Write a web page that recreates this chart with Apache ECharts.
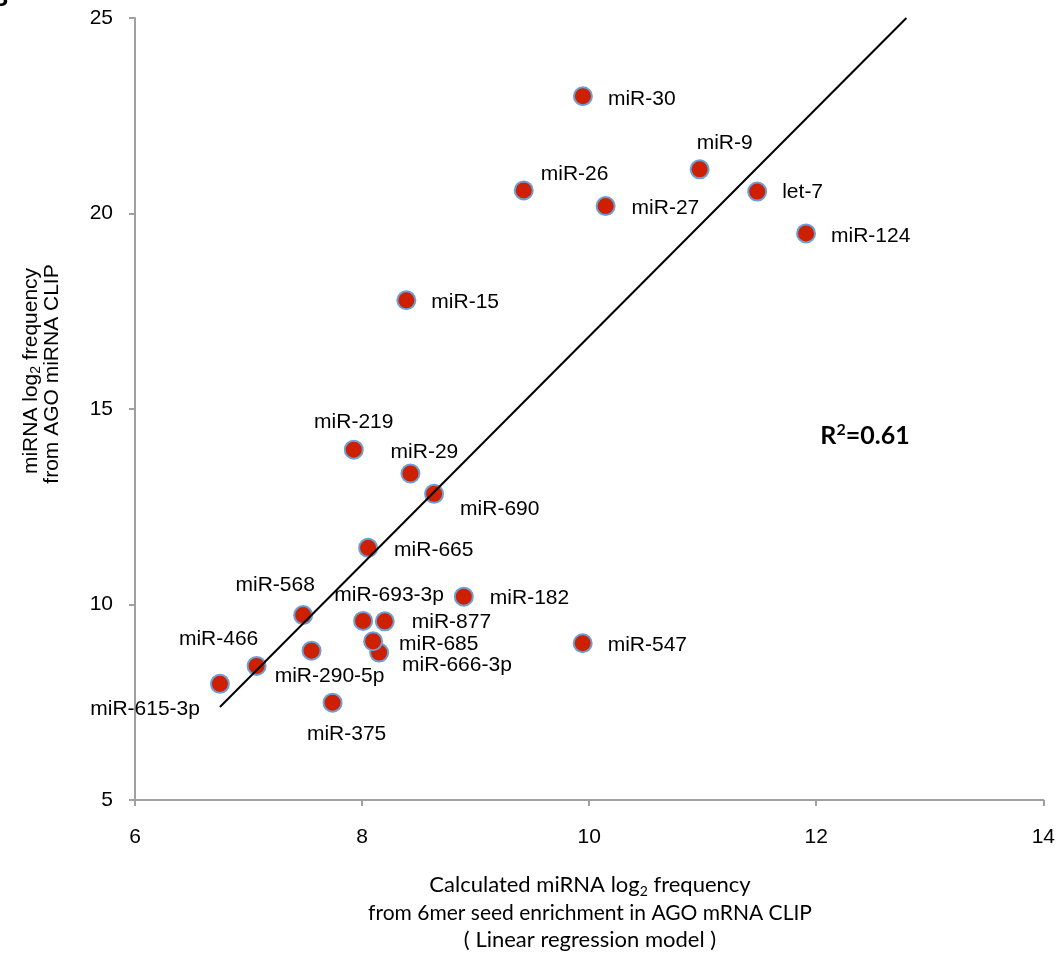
<!DOCTYPE html>
<html>
<head>
<meta charset="utf-8">
<script src="https://cdn.jsdelivr.net/npm/echarts@6/dist/echarts.min.js"></script>
<style>
html,body{margin:0;padding:0;background:#fff;}
#chart{width:1058px;height:958px;}
</style>
</head>
<body>
<div id="chart"></div>
<script>
// ---- data ----
const mirNames = ['miR-30','miR-9','miR-26','miR-27','let-7','miR-124','miR-15','miR-219','miR-29','miR-690','miR-665','miR-182','miR-568','miR-693-3p','miR-877','miR-666-3p','miR-685','miR-547','miR-466','miR-290-5p','miR-615-3p','miR-375'];
const calcFreq = [9.945,10.973,9.424,10.145,11.48,11.91,8.39,7.927,8.426,8.634,8.053,8.896,7.481,8.009,8.20,8.15,8.097,9.943,7.071,7.555,6.748,7.74];
const clipFreq = [23.0,21.13,20.59,20.19,20.56,19.49,17.78,13.96,13.35,12.83,11.45,10.20,9.73,9.58,9.57,8.77,9.06,9.01,8.43,8.82,7.97,7.49];
const trendX = [6.748, 12.794];
const trendY = [7.377, 25.0];
const xTicks = {min: 6, max: 14, interval: 2};
const yTicks = {min: 5, max: 25, interval: 5};
const rSquared = '0.61';

// ---- label placement (layout only) : [align, dx, dy] ----
const labelPlacement = {
  'miR-30':['left',25,3], 'miR-9':['left',-3,-26], 'miR-26':['left',17,-16],
  'miR-27':['left',26,2], 'let-7':['left',25,1], 'miR-124':['left',25,3],
  'miR-15':['left',25,2], 'miR-219':['center',0,-27], 'miR-29':['center',14,-21],
  'miR-690':['left',26,15], 'miR-665':['left',26,2], 'miR-182':['left',26,2],
  'miR-568':['center',-28,-30], 'miR-693-3p':['center',26,-26], 'miR-877':['left',27,1],
  'miR-666-3p':['left',23,13], 'miR-685':['left',26,3], 'miR-547':['left',25,2],
  'miR-466':['center',-38,-27], 'miR-290-5p':['center',18,26], 'miR-615-3p':['right',-20,25],
  'miR-375':['center',14,32]
};

const sansFont = '"Liberation Sans", Arial, sans-serif';
const titleFont = 'Lato, "Open Sans", sans-serif';

const points = mirNames.map((n, i) => {
  const p = labelPlacement[n];
  return {
    name: n,
    value: [calcFreq[i], clipFreq[i]],
    label: {offset: [p[1], p[2]], align: p[0]}
  };
});

const chart = echarts.init(document.getElementById('chart'), null, {renderer: 'canvas'});
const axisLineStyle = {color: '#a0a0a0', width: 2};
chart.setOption({
  animation: false,
  backgroundColor: '#fff',
  grid: {left: 135, right: 14, top: 18, bottom: 158, containLabel: false},
  xAxis: {
    type: 'value', min: xTicks.min, max: xTicks.max, interval: xTicks.interval,
    splitLine: {show: false},
    axisLine: {show: true, onZero: false, lineStyle: axisLineStyle},
    axisTick: {show: true, length: 6, lineStyle: axisLineStyle},
    axisLabel: {margin: 27, color: '#000', fontSize: 21, fontFamily: sansFont}
  },
  yAxis: {
    type: 'value', min: yTicks.min, max: yTicks.max, interval: yTicks.interval,
    splitLine: {show: false},
    axisLine: {show: true, onZero: false, lineStyle: axisLineStyle},
    axisTick: {show: true, length: 6, lineStyle: axisLineStyle},
    axisLabel: {margin: 22, color: '#000', fontSize: 21, fontFamily: sansFont}
  },
  series: [
    {
      type: 'line',
      data: trendX.map((x, i) => [x, trendY[i]]),
      symbol: 'none',
      lineStyle: {color: '#000', width: 2},
      z: 3,
      silent: true
    },
    {
      type: 'scatter',
      data: points,
      symbolSize: 18,
      itemStyle: {color: '#cc2000', borderColor: '#6d9fd6', borderWidth: 2, opacity: 1},
      label: {
        show: true,
        position: 'inside',
        formatter: '{b}',
        verticalAlign: 'middle',
        color: '#000',
        fontSize: 21,
        fontFamily: sansFont
      },
      z: 2
    }
  ],
  graphic: [
    {
      type: 'text', x: 31, y: 371, rotation: Math.PI / 2,
      style: {
        text: '{n|miRNA log}{s|2}{n| frequency}',
        align: 'center', verticalAlign: 'middle',
        rich: {
          n: {fontSize: 21, fontFamily: sansFont, fill: '#000', lineHeight: 25},
          s: {fontSize: 14, fontFamily: sansFont, fill: '#000', lineHeight: 15, verticalAlign: 'bottom'}
        }
      }
    },
    {
      type: 'text', x: 52, y: 374, rotation: Math.PI / 2,
      style: {
        text: 'from AGO miRNA CLIP',
        align: 'center', verticalAlign: 'middle',
        font: '21px ' + sansFont, fill: '#000'
      }
    },
    {
      type: 'text', x: 590, y: 885,
      style: {
        text: '{n|Calculated miRNA log}{s|2}{n| frequency}',
        align: 'center', verticalAlign: 'middle',
        rich: {
          n: {fontSize: 22, fontFamily: titleFont, fill: '#000', lineHeight: 26},
          s: {fontSize: 14, fontFamily: titleFont, fill: '#000', lineHeight: 15, verticalAlign: 'bottom'}
        }
      }
    },
    {
      type: 'text', x: 590, y: 913,
      style: {
        text: 'from 6mer seed enrichment in AGO mRNA CLIP',
        align: 'center', verticalAlign: 'middle',
        font: '21px ' + titleFont, fill: '#000'
      }
    },
    {
      type: 'text', x: 590, y: 940,
      style: {
        text: '( Linear regression model )',
        align: 'center', verticalAlign: 'middle',
        font: '22px ' + titleFont, fill: '#000'
      }
    },
    {
      type: 'text', x: 865, y: 436,
      style: {
        text: '{n|R}{p|2}{n|=' + rSquared + '}',
        align: 'center', verticalAlign: 'middle',
        rich: {
          n: {fontSize: 25, fontWeight: 'bold', fontFamily: titleFont, fill: '#000', lineHeight: 28},
          p: {fontSize: 16, fontWeight: 'bold', fontFamily: titleFont, fill: '#000', lineHeight: 16, verticalAlign: 'top'}
        }
      }
    },
    {
      type: 'text', x: -9, y: -13,
      style: {text: 'B', font: 'bold 24px ' + sansFont, fill: '#000'}
    }
  ]
});
</script>
</body>
</html>
